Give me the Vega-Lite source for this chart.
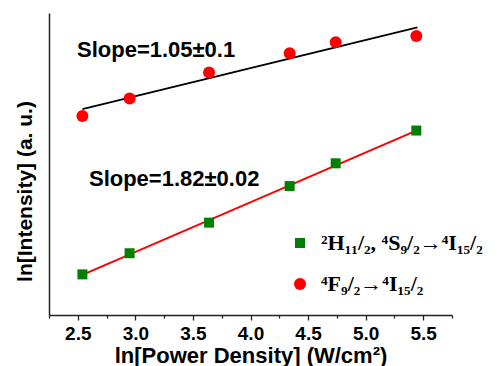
{
  "$schema": "https://vega.github.io/schema/vega-lite/v6.json",
  "autosize": "none",
  "width": 403,
  "height": 302,
  "padding": {"left": 49, "top": 13, "right": 45, "bottom": 51},
  "background": "white",
  "config": {"view": {"stroke": null}, "font": "Liberation Sans"},
  "resolve": {"axis": {"x": "independent"}},
  "datasets": {
    "points": [
      {"series": "²H₁₁/₂, ⁴S₉/₂→⁴I₁₅/₂", "x": 2.54, "y": 1.50},
      {"series": "²H₁₁/₂, ⁴S₉/₂→⁴I₁₅/₂", "x": 2.95, "y": 2.28},
      {"series": "²H₁₁/₂, ⁴S₉/₂→⁴I₁₅/₂", "x": 3.64, "y": 3.41},
      {"series": "²H₁₁/₂, ⁴S₉/₂→⁴I₁₅/₂", "x": 4.34, "y": 4.76},
      {"series": "²H₁₁/₂, ⁴S₉/₂→⁴I₁₅/₂", "x": 4.74, "y": 5.60},
      {"series": "²H₁₁/₂, ⁴S₉/₂→⁴I₁₅/₂", "x": 5.44, "y": 6.81},
      {"series": "⁴F₉/₂→⁴I₁₅/₂", "x": 2.54, "y": 7.35},
      {"series": "⁴F₉/₂→⁴I₁₅/₂", "x": 2.95, "y": 7.99},
      {"series": "⁴F₉/₂→⁴I₁₅/₂", "x": 3.64, "y": 8.95},
      {"series": "⁴F₉/₂→⁴I₁₅/₂", "x": 4.34, "y": 9.66},
      {"series": "⁴F₉/₂→⁴I₁₅/₂", "x": 4.74, "y": 10.07},
      {"series": "⁴F₉/₂→⁴I₁₅/₂", "x": 5.44, "y": 10.30}
    ],
    "fits": [
      {"fit": "G", "x": 2.54, "y": 1.48},
      {"fit": "G", "x": 5.44, "y": 6.81},
      {"fit": "R", "x": 2.54, "y": 7.60},
      {"fit": "R", "x": 5.45, "y": 10.62}
    ],
    "notes": [
      {"label": "Slope=1.05±0.1", "x": 2.493, "y": 9.53},
      {"label": "Slope=1.82±0.02", "x": 2.597, "y": 4.76}
    ]
  },
  "layer": [
    {
      "data": {"name": "fits"},
      "transform": [{"filter": "datum.fit === 'R'"}],
      "mark": {"type": "line", "color": "black", "strokeWidth": 2},
      "encoding": {
        "x": {"field": "x", "type": "quantitative", "scale": {"domain": [2.25, 5.75], "nice": false, "zero": false},
          "axis": {
            "orient": "bottom",
            "values": [2.5, 3.0, 3.5, 4.0, 4.5, 5.0, 5.5],
            "format": ".1f",
            "tickSize": 5,
            "tickColor": "#222", "tickWidth": 1.3,
            "domainColor": "#222", "domainWidth": 1.5,
            "grid": false,
            "labelFont": "Liberation Sans", "labelFontWeight": "bold", "labelFontSize": 19, "labelColor": "black",
            "labelPadding": 4, "labelFlush": false, "labelOverlap": false,
            "title": "ln[Power Density] (W/cm²)",
            "titleFont": "Liberation Sans", "titleFontWeight": "bold", "titleFontSize": 22, "titleColor": "black",
            "titlePadding": 2
          }},
        "y": {"field": "y", "type": "quantitative", "scale": {"domain": [0, 11.15], "nice": false, "zero": false},
          "axis": {
            "labels": false, "ticks": false, "grid": false,
            "domainColor": "#222", "domainWidth": 1.5,
            "title": "ln[Intensity] (a. u.)",
            "titleFont": "Liberation Sans", "titleFontWeight": "bold", "titleFontSize": 21, "titleColor": "black",
            "titlePadding": 14, "titleY": 178, "titleAlign": "center"
          }}
      }
    },
    {
      "data": {"name": "fits"},
      "transform": [{"filter": "datum.fit === 'G'"}],
      "mark": {"type": "line", "color": "#ff0000", "strokeWidth": 2},
      "encoding": {
        "x": {"field": "x", "type": "quantitative",
          "axis": {
            "orient": "bottom",
            "values": [2.25, 2.75, 3.25, 3.75, 4.25, 4.75, 5.25, 5.75],
            "labels": false, "domain": false, "grid": false, "title": null,
            "tickSize": 3, "tickColor": "#222", "tickWidth": 1.3
          }},
        "y": {"field": "y", "type": "quantitative"}
      }
    },
    {
      "data": {"name": "points"},
      "mark": {"type": "point", "filled": true, "opacity": 1},
      "encoding": {
        "x": {"field": "x", "type": "quantitative", "axis": null},
        "y": {"field": "y", "type": "quantitative"},
        "color": {"field": "series", "type": "nominal",
          "scale": {"domain": ["²H₁₁/₂, ⁴S₉/₂→⁴I₁₅/₂", "⁴F₉/₂→⁴I₁₅/₂"], "range": ["#008000", "#ff0000"]},
          "legend": {
            "title": null, "orient": "none", "legendX": 240, "legendY": 219,
            "labelFont": "Liberation Serif", "labelFontWeight": "bold", "labelFontSize": 22, "labelColor": "black",
            "labelLimit": 300, "labelOffset": 10, "rowPadding": 19, "symbolOpacity": 1, "symbolStrokeWidth": 0
          }},
        "shape": {"field": "series", "type": "nominal",
          "scale": {"domain": ["²H₁₁/₂, ⁴S₉/₂→⁴I₁₅/₂", "⁴F₉/₂→⁴I₁₅/₂"], "range": ["square", "circle"]}},
        "size": {"field": "series", "type": "nominal",
          "scale": {"domain": ["²H₁₁/₂, ⁴S₉/₂→⁴I₁₅/₂", "⁴F₉/₂→⁴I₁₅/₂"], "range": [100, 144]}}
      }
    },
    {
      "data": {"name": "notes"},
      "mark": {"type": "text", "align": "left", "baseline": "alphabetic", "font": "Liberation Sans", "fontWeight": "bold", "fontSize": 22, "color": "black"},
      "encoding": {
        "x": {"field": "x", "type": "quantitative", "axis": null},
        "y": {"field": "y", "type": "quantitative"},
        "text": {"field": "label"}
      }
    }
  ]
}
